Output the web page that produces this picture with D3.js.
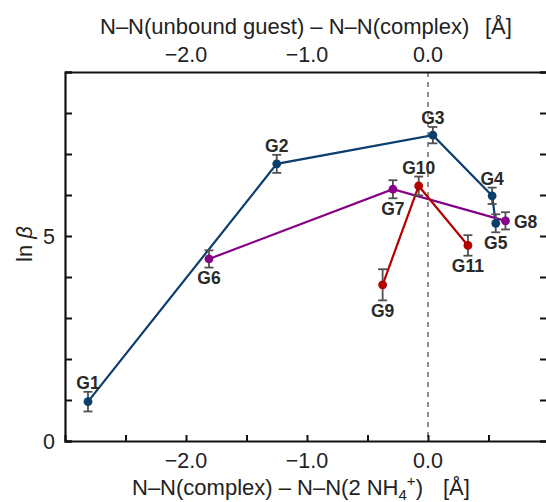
<!DOCTYPE html>
<html>
<head>
<meta charset="utf-8">
<script src="https://cdn.jsdelivr.net/npm/d3@7"></script>
<style>
body { margin: 0; background: #fff; }
text { font-family: "Liberation Sans", Arial, sans-serif; }
</style>
</head>
<body>
<div id="chart"></div>
<script>
var width = 546,
    height = 502;

// guests: x = distance change [Å], y = ln beta, e = error
var names_blue = ["G1", "G2", "G3", "G4", "G5"];
var x_blue = [-2.81, -1.25, 0.04, 0.53, 0.56];
var y_blue = [0.96, 6.76, 7.46, 5.98, 5.31];
var e_blue = [0.24, 0.22, 0.2, 0.2, 0.22];
var pos_blue = ["above", "above", "above", "above", "below"];

var names_purple = ["G6", "G7", "G8"];
var x_purple = [-1.81, -0.29, 0.64];
var y_purple = [4.44, 6.14, 5.37];
var e_purple = [0.21, 0.22, 0.21];
var pos_purple = ["below", "below", "right"];

var names_red = ["G9", "G10", "G11"];
var x_red = [-0.375, -0.077, 0.33];
var y_red = [3.81, 6.22, 4.77];
var e_red = [0.38, 0.23, 0.25];
var pos_red = ["below", "above", "below"];

var bottom_ticks = [-2.5, -2, -1.5, -1, -0.5, 0, 0.5];
var bottom_labels = [-2, -1, 0];
var top_labels = [-2, -1, 0];
var y_ticks = [0, 1, 2, 3, 4, 5, 6, 7, 8, 9];
var y_labels = [0, 5];

var pLeft = 65, pRight = 549, pTop = 72, pBottom = 441;

var svg = d3.select('#chart').append('svg')
    .attr('width', width)
    .attr('height', height);

let scaleX = d3.scaleLinear().domain([-3, 1]).range([pLeft, pRight]);
let scaleY = d3.scaleLinear().domain([0, 9]).range([pBottom, pTop]);

function fmt(d) {
    return d < 0 ? "\u2212" + Math.abs(d).toFixed(1) : d.toFixed(1);
}

// dashed zero line
svg.append("line")
    .attr("x1", scaleX(0)).attr("x2", scaleX(0))
    .attr("y1", pTop).attr("y2", pBottom)
    .attr("stroke", "#909090")
    .attr("stroke-width", 2)
    .attr("stroke-dasharray", "5,5");

// bottom axis: inward ticks
var axisBottom = d3.axisBottom(scaleX).tickValues(bottom_ticks).tickSize(-6).tickFormat("");
var gb = svg.append("g").attr("transform", "translate(0," + pBottom + ")").call(axisBottom);
svg.selectAll(".blab").data(bottom_labels).enter().append("text")
    .attr("class", "blab")
    .attr("x", d => scaleX(d))
    .attr("y", 468)
    .attr("text-anchor", "middle")
    .attr("font-size", "21.5px")
    .attr("fill", "#222")
    .text(fmt);

// top axis labels
svg.selectAll(".tlab").data(top_labels).enter().append("text")
    .attr("class", "tlab")
    .attr("x", d => scaleX(d))
    .attr("y", 62)
    .attr("text-anchor", "middle")
    .attr("font-size", "21.5px")
    .attr("fill", "#222")
    .text(fmt);

// left & right axis
var axisLeft = d3.axisLeft(scaleY).tickValues(y_ticks).tickSize(-7).tickFormat("");
var gl = svg.append("g").attr("transform", "translate(" + pLeft + ",0)").call(axisLeft);
var axisRight = d3.axisRight(scaleY).tickValues(y_ticks).tickSize(-9).tickFormat("");
var gr = svg.append("g").attr("transform", "translate(" + pRight + ",0)").call(axisRight);
var axisTop = d3.axisTop(scaleX).tickValues([]).tickSize(0);
var gt = svg.append("g").attr("transform", "translate(0," + pTop + ")").call(axisTop);

[gb, gl, gr, gt].forEach(function(a) {
    a.selectAll("path").attr("stroke", "#111").attr("stroke-width", 2.2);
    a.selectAll("line").attr("stroke", "#111").attr("stroke-width", 2);
});

svg.selectAll(".ylab").data(y_labels).enter().append("text")
    .attr("class", "ylab")
    .attr("x", 55)
    .attr("y", d => scaleY(d) + 7.5)
    .attr("text-anchor", "end")
    .attr("font-size", "21.5px")
    .attr("fill", "#222")
    .text(d => d);

// axis titles
var tt = svg.append("text")
    .attr("x", 100).attr("y", 34)
    .attr("font-size", "22px")
    .attr("fill", "#222");
tt.append("tspan").text("N\u2013N(unbound guest) \u2013 N\u2013N(complex)");
tt.append("tspan").attr("x", 485).text("[\u00c5]");

var bt = svg.append("text")
    .attr("x", 132).attr("y", 495)
    .attr("font-size", "22px")
    .attr("fill", "#222");
bt.append("tspan").text("N\u2013N(complex) \u2013 N\u2013N(2 NH");
bt.append("tspan").attr("font-size", "15px").attr("dy", 5).text("4");
bt.append("tspan").attr("font-size", "15px").attr("dy", -14).text("+");
bt.append("tspan").attr("dy", 9).text(")");
bt.append("tspan").attr("x", 443).text("[\u00c5]");

var yl = svg.append("text")
    .attr("transform", "translate(32,244) rotate(-90)")
    .attr("text-anchor", "middle")
    .attr("font-size", "22px")
    .attr("fill", "#222");
yl.append("tspan").text("ln ");
yl.append("tspan").attr("font-style", "italic").text("\u03b2");

var lineFunc = d3.line()
    .x(d => scaleX(d.x))
    .y(d => scaleY(d.y));

function makeSeries(names, xs, ys, es, pos) {
    return names.map((n, i) => ({name: n, x: xs[i], y: ys[i], e: es[i], pos: pos[i]}));
}

var series = [
    {color: "#0b3d6d", pts: makeSeries(names_blue, x_blue, y_blue, e_blue, pos_blue)},
    {color: "#870087", pts: makeSeries(names_purple, x_purple, y_purple, e_purple, pos_purple)},
    {color: "#b30000", pts: makeSeries(names_red, x_red, y_red, e_red, pos_red)}
];

var g = svg.append("g");

series.forEach(function(s) {
    g.append("path")
        .datum(s.pts)
        .attr("d", lineFunc)
        .attr("fill", "none")
        .attr("stroke", s.color)
        .attr("stroke-width", 2.2);
});

series.forEach(function(s) {
    var eb = g.selectAll(null).data(s.pts).enter().append("g")
        .attr("stroke", "#505050")
        .attr("stroke-width", 1.8);
    eb.append("line")
        .attr("x1", d => scaleX(d.x)).attr("x2", d => scaleX(d.x))
        .attr("y1", d => scaleY(d.y - d.e)).attr("y2", d => scaleY(d.y + d.e));
    eb.append("line")
        .attr("x1", d => scaleX(d.x) - 4.5).attr("x2", d => scaleX(d.x) + 4.5)
        .attr("y1", d => scaleY(d.y + d.e)).attr("y2", d => scaleY(d.y + d.e));
    eb.append("line")
        .attr("x1", d => scaleX(d.x) - 4.5).attr("x2", d => scaleX(d.x) + 4.5)
        .attr("y1", d => scaleY(d.y - d.e)).attr("y2", d => scaleY(d.y - d.e));
});

series.forEach(function(s) {
    g.selectAll(null).data(s.pts).enter().append("circle")
        .attr("cx", d => scaleX(d.x))
        .attr("cy", d => scaleY(d.y))
        .attr("r", 4.4)
        .attr("fill", s.color);
});

// point labels
series.forEach(function(s) {
    g.selectAll(null).data(s.pts).enter().append("text")
        .attr("x", d => d.pos == "right" ? scaleX(d.x) + 8.5 : scaleX(d.x))
        .attr("y", function(d) {
            if (d.pos == "above") return scaleY(d.y + d.e) - 3;
            if (d.pos == "below") return scaleY(d.y - d.e) + 16.5;
            return scaleY(d.y) + 7.5;
        })
        .attr("text-anchor", d => d.pos == "right" ? "start" : "middle")
        .attr("font-size", "17.5px")
        .attr("font-weight", "bold")
        .attr("fill", "#2a2a2a")
        .text(d => d.name);
});
</script>
</body>
</html>
